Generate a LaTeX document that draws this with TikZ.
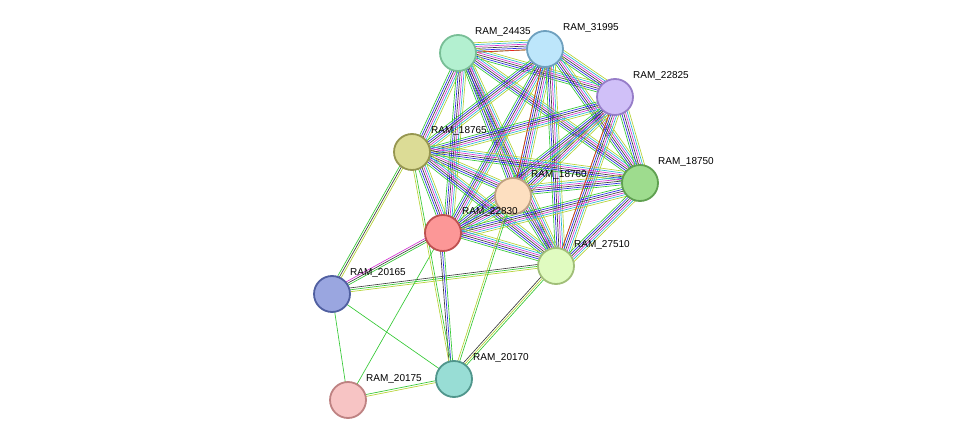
\documentclass[tikz,border=0pt]{standalone}
\usepackage{fontspec}
\setmainfont{Liberation Sans}
\usetikzlibrary{calc}
\definecolor{eg}{RGB}{50,200,50}
\definecolor{eb}{RGB}{40,40,230}
\definecolor{ek}{RGB}{60,60,60}
\definecolor{em}{RGB}{210,50,210}
\definecolor{ec}{RGB}{40,180,210}
\definecolor{ey}{RGB}{180,210,50}
\definecolor{er}{RGB}{240,30,30}
\definecolor{el}{RGB}{150,150,240}
\newcommand{\bund}[3]{%
  \foreach \c [count=\i] in {#3} {
    \pgfmathsetmacro{\o}{(\i-1)*1.9}
    \draw[line width=0.65pt,\c] ($(#1)!\o pt!90:(#2)$) -- ($(#2)!\o pt!-90:(#1)$);
  }}
\tikzset{prot/.style={circle,minimum size=36pt,inner sep=0pt,line width=1.8pt},
 lab/.style={font=\fontsize{10}{11}\selectfont,anchor=south west,inner sep=1pt}}
\begin{document}
\begin{tikzpicture}[x=1pt,y=-1pt]
\useasboundingbox (0,0) rectangle (976,446);
\coordinate (A) at (458,53);
\coordinate (B) at (545,49);
\coordinate (C) at (615,97);
\coordinate (D) at (412,152);
\coordinate (E) at (513,196);
\coordinate (F) at (640,183);
\coordinate (G) at (443,233);
\coordinate (H) at (556,266);
\coordinate (I) at (332,294);
\coordinate (J) at (454,379);
\coordinate (K) at (348,400);
\foreach \p/\q in {A/B,A/C,A/D,A/E,A/F,A/G,A/H,B/C,B/D,B/E,B/F,B/G,B/H,C/D,C/E,C/F,C/G,C/H,D/E,D/F,D/G,D/H,E/F,E/G,E/H,F/G,F/H,G/H}{
  \bund{\p}{\q}{eg,eb,ek,em,ec,ey}
}
\bund{A}{B}{er}
\bund{B}{E}{er}
\bund{C}{H}{er}
\bund{I}{G}{eg,ek,em}
\bund{I}{D}{ey,ek,eg}
\bund{I}{H}{ey,eg,ek}
\bund{I}{J}{eg}
\bund{I}{K}{eg}
\bund{K}{G}{eg}
\bund{K}{J}{ey,eg}
\bund{J}{G}{eg,eb,ek}
\bund{J}{D}{eg,ey}
\bund{J}{H}{eg,ey,ek}
\bund{J}{E}{eg,ey}
\node[prot,fill={rgb,255:red,179;green,240;blue,208},draw={rgb,255:red,120;green,190;blue,150}] (n1) at (A) {};
\node[prot,fill={rgb,255:red,189;green,230;blue,251},draw={rgb,255:red,110;green,160;blue,190}] (n2) at (B) {};
\node[prot,fill={rgb,255:red,208;green,192;blue,248},draw={rgb,255:red,150;green,125;blue,200}] (n3) at (C) {};
\node[prot,fill={rgb,255:red,220;green,220;blue,150},draw={rgb,255:red,150;green,150;blue,80}] (n4) at (D) {};
\node[prot,fill={rgb,255:red,253;green,223;blue,192},draw={rgb,255:red,190;green,160;blue,130}] (n5) at (E) {};
\node[prot,fill={rgb,255:red,158;green,220;blue,142},draw={rgb,255:red,95;green,160;blue,80}] (n6) at (F) {};
\node[prot,fill={rgb,255:red,252;green,151;blue,151},draw={rgb,255:red,190;green,80;blue,80}] (n7) at (G) {};
\node[prot,fill={rgb,255:red,224;green,251;blue,192},draw={rgb,255:red,160;green,190;blue,120}] (n8) at (H) {};
\node[prot,fill={rgb,255:red,154;green,166;blue,224},draw={rgb,255:red,80;green,95;blue,160}] (n9) at (I) {};
\node[prot,fill={rgb,255:red,152;green,221;blue,213},draw={rgb,255:red,80;green,150;blue,140}] (n10) at (J) {};
\node[prot,fill={rgb,255:red,247;green,196;blue,196},draw={rgb,255:red,190;green,130;blue,130}] (n11) at (K) {};
\node[lab] at (474,38) {RAM\_24435};
\node[lab] at (562,34) {RAM\_31995};
\node[lab] at (632,82) {RAM\_22825};
\node[lab] at (430,137) {RAM\_18765};
\node[lab] at (530,181) {RAM\_18760};
\node[lab] at (657,168) {RAM\_18750};
\node[lab] at (461,218) {RAM\_22830};
\node[lab] at (573,251) {RAM\_27510};
\node[lab] at (349,279) {RAM\_20165};
\node[lab] at (472,364) {RAM\_20170};
\node[lab] at (365,385) {RAM\_20175};
\end{tikzpicture}
\end{document}
